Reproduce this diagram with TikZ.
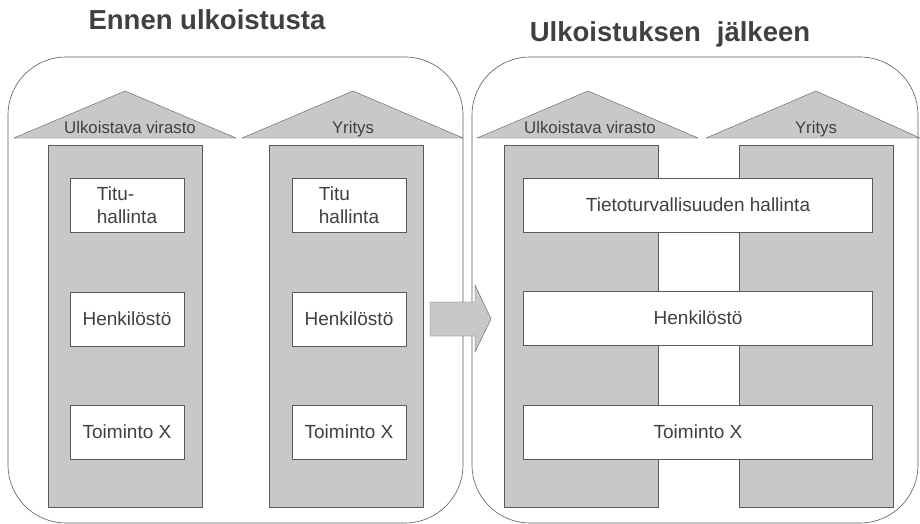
\documentclass[tikz,border=0pt]{standalone}
\usepackage{fontspec}
\setmainfont{Liberation Sans}
\usepackage{xcolor}
\definecolor{oltext}{RGB}{64,64,64}
\definecolor{olline}{RGB}{90,90,90}
\definecolor{olgrey}{RGB}{200,200,200}
\usetikzlibrary{positioning}

\tikzset{
  panel/.style={draw=olline, semithick, rounded corners=58pt},
  roof/.style={draw=olline, fill=olgrey},
  colbox/.style={draw=olline, fill=olgrey, minimum width=154pt, minimum height=362pt, inner sep=0pt},
  funcbox/.style={draw=olline, fill=white, minimum width=114pt, minimum height=54pt, inner sep=0pt,
    text=oltext, font=\fontsize{19}{23}\selectfont},
  widebox/.style={funcbox, minimum width=349pt},
  rooflabel/.style={text=oltext, font=\fontsize{16.8}{19}\selectfont, inner sep=0pt, anchor=base},
  heading/.style={text=oltext, font=\fontsize{27.5}{30}\selectfont\bfseries, inner sep=0pt, anchor=base}
}

\begin{document}
\begin{tikzpicture}[x=1pt, y=-1pt]
  \useasboundingbox (0,0) rectangle (920,524);

  % titles
  \node[heading] (titleA) at (207,30) {Ennen ulkoistusta};
  \node[heading] (titleB) at (670,42) {Ulkoistuksen\hspace{0.3em} jälkeen};

  % panels
  \draw[panel] (8,57) rectangle (463,523);
  \draw[panel] (472,57) rectangle (918,523);

  % roofs, left panel
  \draw[roof] (14,138) -- (125,91) -- (236,138) -- cycle;
  \draw[roof] (242,138) -- (353,91) -- (463,138) -- cycle;
  \node[rooflabel] (roofA1) at (130,133) {Ulkoistava virasto};
  \node[rooflabel] (roofA2) at (353,133) {Yritys};

  % roofs, right panel
  \draw[roof] (477,138) -- (588,91) -- (698,138) -- cycle;
  \draw[roof] (706,138) -- (816,91) -- (920,138) -- cycle;
  \node[rooflabel] (roofB1) at (590,133) {Ulkoistava virasto};
  \node[rooflabel] (roofB2) at (816,133) {Yritys};

  % columns
  \node[colbox] (colA1) at (125,326) {};
  \node[colbox] (colA2) at (346,326) {};
  \node[colbox] (colB1) at (581,326) {};
  \node[colbox] (colB2) at (816,326) {};

  % functions before
  \node[funcbox, align=left] (tituA1) at (127,205) {Titu-\\hallinta};
  \node[funcbox] (henkA1) at (127,319) {Henkilöstö};
  \node[funcbox] (toimA1) at (127,432) {Toiminto X};
  \node[funcbox, align=left] (tituA2) at (349,205) {Titu\\hallinta};
  \node[funcbox] (henkA2) at (349,319) {Henkilöstö};
  \node[funcbox] (toimA2) at (349,432) {Toiminto X};

  % functions after
  \node[widebox] (tituB) at (698,205) {Tietoturvallisuuden hallinta};
  \node[widebox] (henkB) at (698,318) {Henkilöstö};
  \node[widebox] (toimB) at (698,432) {Toiminto X};

  % transition arrow
  \draw[roof] (430,302) -- (475,302) -- (475,285) -- (491,319) -- (475,352)
    -- (475,336) -- (430,336) -- cycle;
\end{tikzpicture}
\end{document}
